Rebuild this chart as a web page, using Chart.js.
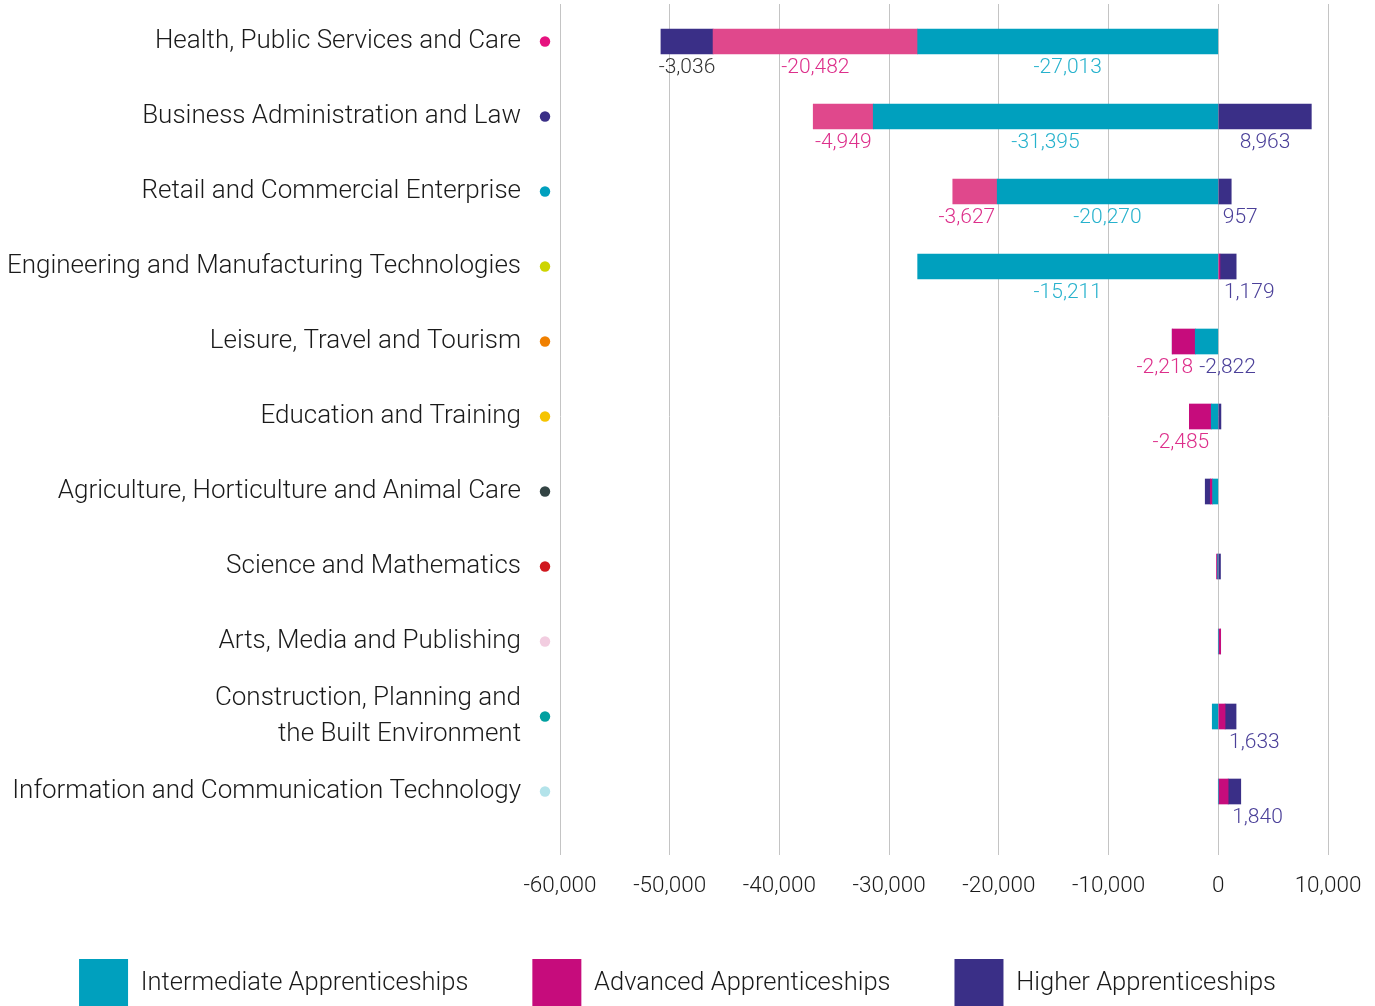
<!DOCTYPE html>
<html lang="en">
<head>
<meta charset="UTF-8">
<title>Change in apprenticeship starts by sector</title>
<script src="https://cdn.jsdelivr.net/npm/chart.js"></script>
<style>
  html, body { margin: 0; padding: 0; background: #fff; overflow: hidden; }
  #wrap { width: 1375px; height: 1019px; }
</style>
</head>
<body>
<div id="wrap"><canvas id="chart"></canvas></div>
<script>
// sectors, top to bottom
const sectors = [
    'Health, Public Services and Care',
    'Business Administration and Law',
    'Retail and Commercial Enterprise',
    'Engineering and Manufacturing Technologies',
    'Leisure, Travel and Tourism',
    'Education and Training',
    'Agriculture, Horticulture and Animal Care',
    'Science and Mathematics',
    'Arts, Media and Publishing',
    ['Construction, Planning and', 'the Built Environment'],
    'Information and Communication Technology'
];
const sectorColours = ['#e6127f', '#3a2f87', '#00a0be', '#cdd400', '#f08000', '#f5c400',
                       '#334444', '#d0181f', '#f2cde0', '#00a0a0', '#b3e3ea'];

// bar lengths as drawn
const intermediate = [-27400, -31450, -20150, -27400, -2100, -640, -520, -60, 0, -550, 0];
const advanced     = [-18650, -5470, -4050, 150, -2100, -2000, -210, -100, 220, 620, 900];
const higher       = [-4750, 8480, 1180, 1480, 0, 240, -460, 200, 0, 1000, 1150];

// value labels printed under the bars
const intermediateText = ['-27,013', '-31,395', '-20,270', '-15,211', null, null, null, null, null, null, null];
const advancedText     = ['-20,482', '-4,949', '-3,627', null, '-2,218', '-2,485', null, null, null, null, null];
const higherText       = ['-3,036', '8,963', '957', '1,179', '-2,822', null, null, null, null, '1,633', '1,840'];

const xMin = -60000, xMax = 10000, xStep = 10000;

const FONT = 'Roboto';
const INK = '#1a1a1a';

const valueLabels = {
    id: 'valueLabels',
    afterDatasetsDraw(chart) {
        const ctx = chart.ctx;
        ctx.save();
        ctx.font = '300 21px ' + FONT;
        ctx.textBaseline = 'middle';
        chart.data.datasets.forEach((ds, d) => {
            const meta = chart.getDatasetMeta(d);
            ds.valueText.forEach((txt, i) => {
                if (!txt) return;
                const bar = meta.data[i];
                let left = Math.min(bar.x, bar.base);
                let right = Math.max(bar.x, bar.base);
                if (right - left < 1) {
                    // empty segment: hang the label off the segment nearest zero
                    const first = chart.getDatasetMeta(0).data[i];
                    left = right = Math.min(first.x, first.base);
                }
                const w = ctx.measureText(txt).width;
                let x;
                if (w <= right - left + 8) {
                    x = (left + right) / 2;
                    ctx.textAlign = 'center';
                } else if (ds.data[i] < 0) {
                    x = right - 2;
                    ctx.textAlign = 'right';
                } else {
                    x = left + 4;
                    ctx.textAlign = 'left';
                }
                ctx.fillStyle = typeof ds.valueColour === 'function' ? ds.valueColour(i) : ds.valueColour;
                ctx.fillText(txt, x, bar.y + bar.height / 2 + 14);
            });
        });
        ctx.restore();
    }
};

const sectorDots = {
    id: 'sectorDots',
    afterDraw(chart) {
        const {ctx, chartArea, scales: {y}} = chart;
        ctx.save();
        sectorColours.forEach((c, i) => {
            ctx.beginPath();
            ctx.arc(chartArea.left - 15, y.getPixelForValue(i), 5.2, 0, Math.PI * 2);
            ctx.fillStyle = c;
            ctx.fill();
        });
        ctx.restore();
    }
};

const ctx = document.getElementById('chart').getContext('2d');
new Chart(ctx, {
    type: 'bar',
    data: {
        labels: sectors,
        datasets: [
            {
                label: 'Intermediate Apprenticeships',
                data: intermediate,
                backgroundColor: '#00a0be',
                legendColour: '#00a0be',
                valueText: intermediateText,
                valueColour: '#27b2cd'
            },
            {
                label: 'Advanced Apprenticeships',
                data: advanced,
                backgroundColor: advanced.map((v, i) => i < 3 ? '#e0488c' : '#c60c7c'),
                legendColour: '#c60c7c',
                valueText: advancedText,
                valueColour: '#dd2f8b'
            },
            {
                label: 'Higher Apprenticeships',
                data: higher,
                backgroundColor: '#3a2f87',
                legendColour: '#3a2f87',
                valueText: higherText,
                valueColour: i => i === 0 ? '#333333' : '#4b4099'
            }
        ]
    },
    options: {
        indexAxis: 'y',
        responsive: true,
        maintainAspectRatio: false,
        animation: false,
        barThickness: 25,
        layout: { padding: { top: 4, right: 20, left: 0, bottom: 0 } },
        scales: {
            x: {
                stacked: true,
                min: xMin,
                max: xMax,
                border: { display: false },
                grid: { color: '#c4c4c4', lineWidth: 1, drawTicks: true, tickLength: 26 },
                afterFit: scale => {
                    scale.paddingRight = 47;
                    scale.height = 66;
                },
                ticks: {
                    stepSize: xStep,
                    padding: 22,
                    color: INK,
                    font: { family: FONT, size: 22.5, weight: 300, lineHeight: 0.8 },
                    callback: v => v.toLocaleString('en-US')
                }
            },
            y: {
                stacked: true,
                border: { display: false },
                grid: { display: false, drawTicks: false },
                afterFit: scale => {
                    scale.width = 560;
                    // labels sit well inside the rows, no extra room needed above/below
                    scale.paddingTop = 0;
                    scale.paddingBottom = 0;
                },
                ticks: {
                    autoSkip: false,
                    padding: 39,
                    color: INK,
                    font: { family: FONT, size: 26, weight: 300, lineHeight: 1.35 }
                }
            }
        },
        plugins: {
            tooltip: { enabled: false },
            legend: {
                position: 'bottom',
                labels: {
                    boxWidth: 49,
                    boxHeight: 50,
                    padding: 64,
                    color: INK,
                    font: { family: FONT, size: 25.5, weight: 300 },
                    generateLabels(chart) {
                        return Chart.defaults.plugins.legend.labels.generateLabels(chart).map(item => {
                            const c = chart.data.datasets[item.datasetIndex].legendColour;
                            item.fillStyle = c;
                            item.strokeStyle = c;
                            item.lineWidth = 0;
                            return item;
                        });
                    }
                }
            }
        }
    },
    plugins: [valueLabels, sectorDots]
});
</script>
</body>
</html>
